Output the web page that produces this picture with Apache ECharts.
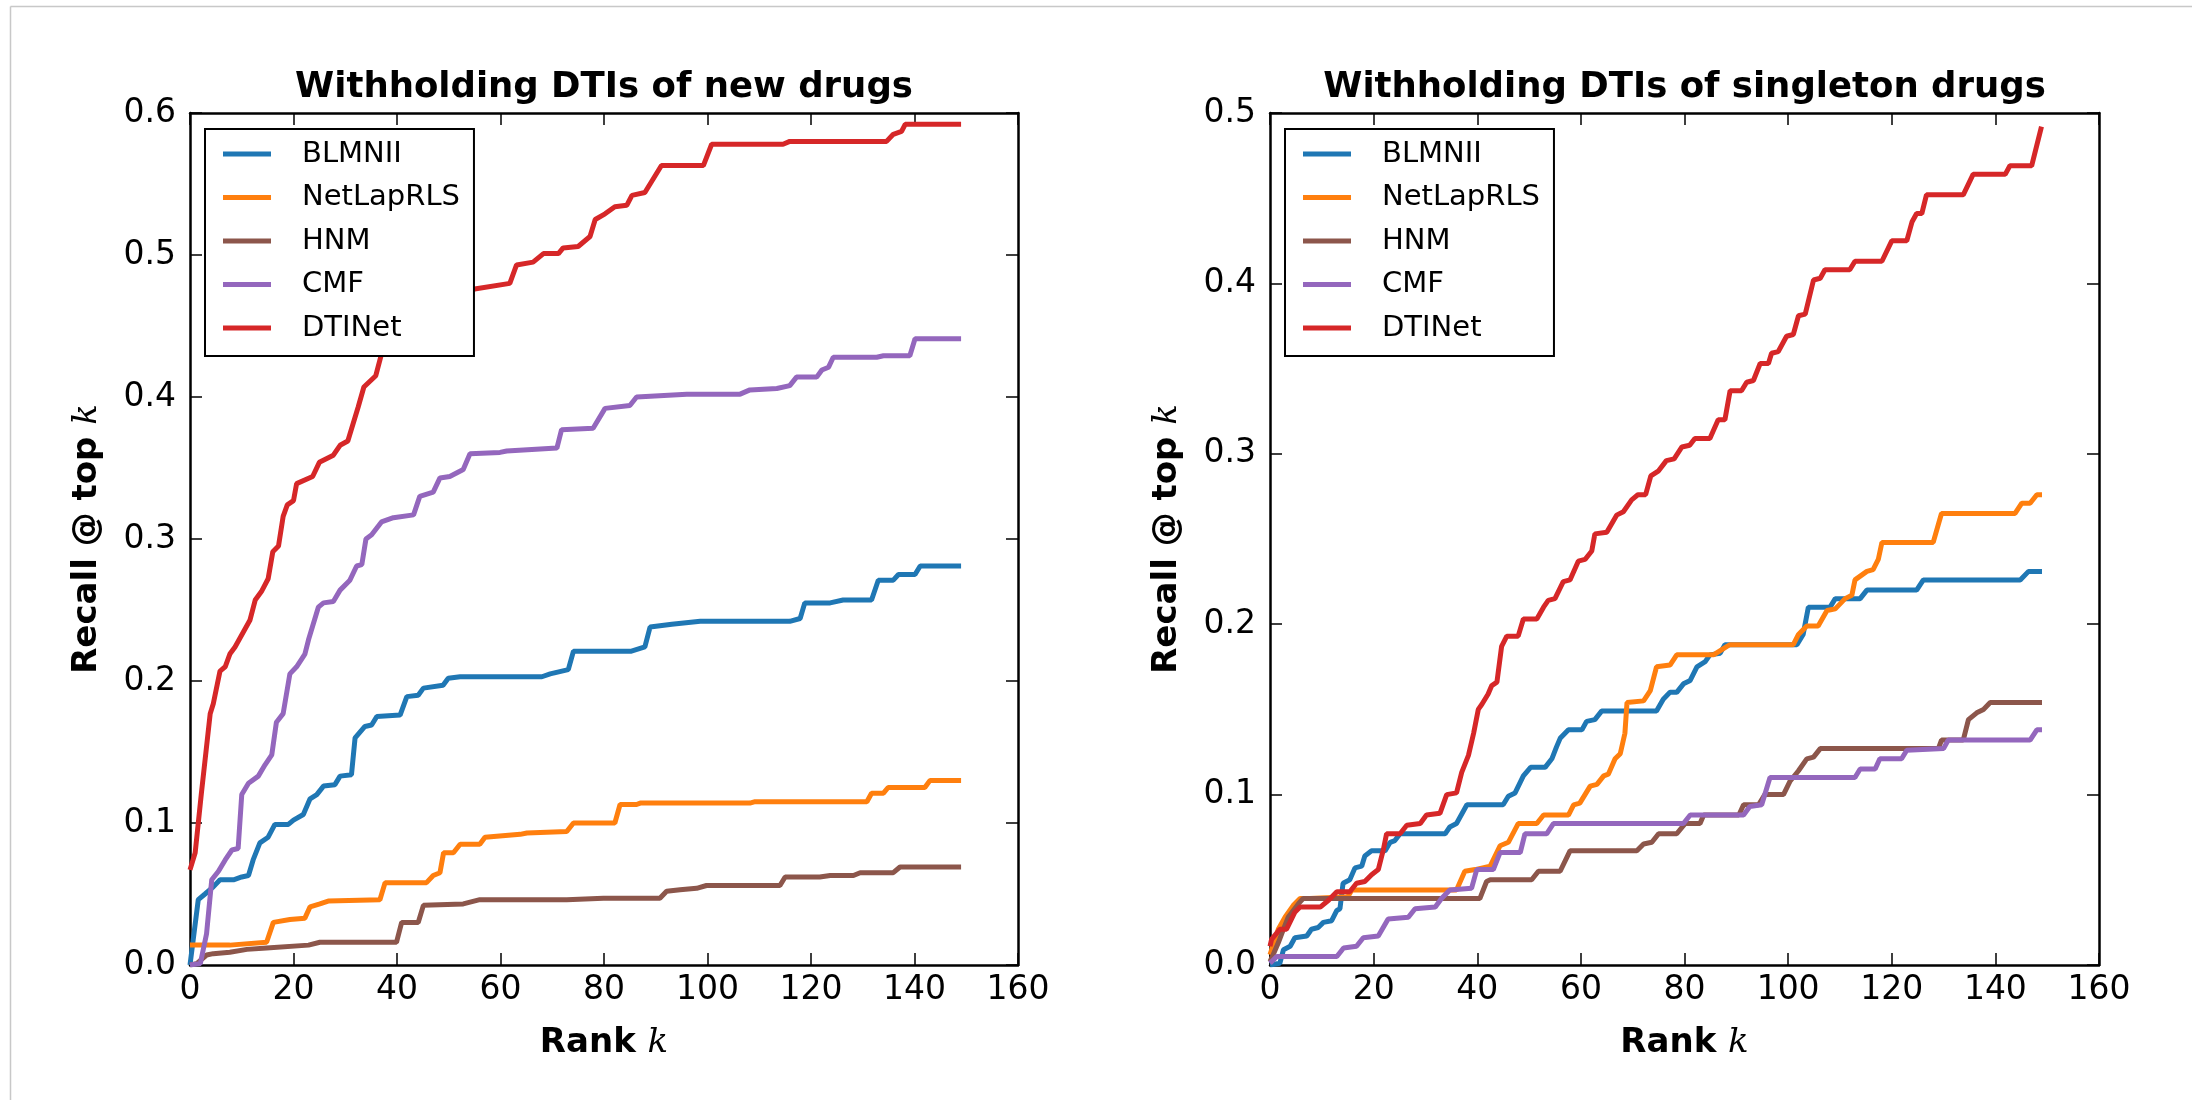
<!DOCTYPE html>
<html>
<head>
<meta charset="utf-8">
<title>Recall @ top k</title>
<script src="https://cdn.jsdelivr.net/npm/echarts@6/dist/echarts.min.js"></script>
<style>
  html, body { margin: 0; padding: 0; background: #fff; }
  #main { width: 2192px; height: 1100px; }
</style>
</head>
<body>
<div id="main"></div>
<script>
// series names and colours (matplotlib defaults)
var methods = ['BLMNII', 'NetLapRLS', 'HNM', 'CMF', 'DTINet'];
var colors = ['#1f77b4', '#ff7f0e', '#8c564b', '#9467bd', '#d62728'];
var titles = ['Withholding DTIs of new drugs', 'Withholding DTIs of singleton drugs'];
var xTicks = [0, 20, 40, 60, 80, 100, 120, 140, 160];
var yMaxLeft = 0.6;
var yMaxRight = 0.5;

// ---- left panel: new drugs, [rank k, recall] ----
var newBLMNII = [[0,0],[1.6,0.046],[2.9,0.05],[4.5,0.055],[5.8,0.06],[8.4,0.06],[10,0.062],[11.3,0.063],[12.2,0.074],[13.5,0.086],[15.1,0.09],[16.4,0.099],[19,0.099],[20,0.102],[21.9,0.106],[23.2,0.117],[24.5,0.12],[25.8,0.126],[28,0.127],[29,0.133],[31.2,0.134],[31.9,0.16],[33.8,0.168],[35.1,0.169],[36.1,0.175],[40.6,0.176],[41.9,0.189],[44.1,0.19],[45.1,0.195],[48.9,0.197],[49.9,0.202],[52.2,0.203],[68,0.203],[69.6,0.205],[73.1,0.208],[74.1,0.221],[85.3,0.221],[87.9,0.224],[88.9,0.238],[93.1,0.24],[98.6,0.242],[115.9,0.242],[117.9,0.244],[118.8,0.255],[123.7,0.255],[126.2,0.257],[131.7,0.257],[133,0.271],[135.9,0.271],[136.9,0.275],[140.1,0.275],[141.1,0.281],[149,0.281]];
var newNetLapRLS = [[0,0.014],[7.7,0.014],[14.8,0.016],[16.1,0.03],[19.3,0.032],[22.2,0.033],[23.2,0.041],[25.1,0.043],[26.7,0.045],[36.7,0.046],[37.7,0.058],[45.7,0.058],[47,0.063],[48.3,0.065],[49,0.079],[50.9,0.079],[52.2,0.085],[56,0.085],[57,0.09],[63.8,0.092],[65.1,0.093],[72.8,0.094],[74.1,0.1],[82.1,0.1],[83.1,0.113],[86.3,0.113],[87,0.114],[108.2,0.114],[109.2,0.115],[130.8,0.115],[131.7,0.121],[134,0.121],[134.9,0.125],[142,0.125],[143,0.13],[149,0.13]];
var newHNM = [[0,0],[1.3,0.001],[3.2,0.007],[4.5,0.008],[7.7,0.009],[11,0.011],[14.8,0.012],[22.9,0.014],[25.1,0.016],[39.9,0.016],[40.9,0.03],[44.1,0.03],[45.1,0.042],[52.8,0.043],[56,0.046],[72.8,0.046],[79.9,0.047],[90.8,0.047],[92.1,0.052],[94.7,0.053],[97.9,0.054],[99.8,0.056],[114,0.056],[115,0.062],[121.7,0.062],[123.7,0.063],[128.2,0.063],[129.5,0.065],[135.9,0.065],[137.2,0.069],[149,0.069]];
var newCMF = [[0,0],[2,0.001],[3.2,0.022],[4.2,0.06],[5.5,0.066],[6.8,0.074],[8.1,0.081],[9.3,0.082],[10,0.12],[11.3,0.128],[13.2,0.133],[14.5,0.141],[15.8,0.148],[16.7,0.171],[18,0.177],[19.3,0.205],[20.6,0.21],[22.2,0.219],[22.9,0.229],[24.8,0.252],[25.8,0.255],[27.7,0.256],[29,0.264],[30.9,0.271],[32.2,0.281],[33.2,0.282],[34,0.3],[35.1,0.303],[37,0.312],[39.3,0.315],[43.2,0.317],[44.4,0.33],[47,0.333],[48.3,0.343],[50.2,0.344],[52.8,0.349],[54.1,0.36],[59.9,0.361],[61.2,0.362],[70.9,0.364],[71.8,0.377],[77.9,0.378],[80.2,0.392],[85,0.394],[86.3,0.4],[96,0.402],[106.3,0.402],[108.2,0.405],[113.4,0.406],[115.9,0.408],[117.2,0.414],[121.1,0.414],[122.1,0.419],[123.4,0.421],[124.3,0.428],[132.7,0.428],[134,0.429],[139.1,0.429],[140.1,0.441],[149,0.441]];
var newDTINet = [[0,0.067],[1,0.079],[2.2,0.121],[3.9,0.177],[4.5,0.184],[5.8,0.207],[6.8,0.21],[7.7,0.219],[8.7,0.224],[11.6,0.243],[12.6,0.257],[13.8,0.263],[15.1,0.272],[16,0.291],[17.1,0.295],[18,0.316],[18.8,0.324],[20,0.327],[20.6,0.339],[23.7,0.344],[25,0.354],[27.7,0.359],[29,0.366],[30.5,0.369],[32.5,0.393],[33.6,0.407],[35.9,0.415],[37.2,0.433],[40,0.445],[44,0.458],[48,0.466],[52,0.472],[55,0.476],[61.8,0.48],[63.1,0.493],[66.3,0.495],[68.3,0.501],[71.2,0.501],[72.1,0.505],[75,0.506],[77.3,0.513],[78.3,0.525],[80.2,0.529],[82.1,0.534],[84.4,0.535],[85.4,0.542],[87.9,0.544],[91.1,0.563],[99.2,0.563],[100.8,0.578],[114.6,0.578],[115.9,0.58],[134.6,0.58],[135.9,0.585],[137.5,0.587],[138.2,0.592],[149,0.592]];

// ---- right panel: singleton drugs ----
var sgBLMNII = [[0,0],[1.9,0.001],[2.6,0.009],[3.9,0.011],[4.8,0.016],[7.1,0.017],[8,0.021],[9.3,0.022],[10.3,0.025],[11.9,0.026],[12.9,0.032],[13.5,0.033],[14.1,0.048],[15.4,0.05],[16.4,0.057],[17.7,0.058],[18.3,0.064],[19.6,0.067],[22.2,0.067],[23.2,0.072],[24.1,0.073],[25.1,0.077],[33.8,0.077],[34.7,0.081],[36,0.083],[38,0.094],[45,0.094],[46,0.099],[47.3,0.101],[48.9,0.111],[50.3,0.116],[53.1,0.116],[54.4,0.121],[55.3,0.128],[56,0.133],[57.6,0.138],[60.2,0.138],[61.1,0.143],[62.7,0.144],[64,0.149],[74.6,0.149],[75.9,0.156],[77.2,0.16],[78.5,0.16],[79.8,0.165],[81.1,0.167],[82.4,0.175],[84,0.178],[84.9,0.182],[86.9,0.183],[87.8,0.188],[101.7,0.188],[102.9,0.194],[103.9,0.21],[108.1,0.21],[109.1,0.215],[113.9,0.215],[115.2,0.22],[124.8,0.22],[126.1,0.226],[144.8,0.226],[146.4,0.231],[149,0.231]];
var sgNetLapRLS = [[0,0.006],[1.6,0.021],[2.9,0.028],[4.5,0.035],[5.8,0.039],[7.7,0.039],[15,0.04],[15.8,0.044],[36,0.044],[37.6,0.055],[39.6,0.056],[42.5,0.058],[44.4,0.07],[46,0.072],[47.9,0.083],[51.5,0.083],[52.8,0.088],[57.6,0.088],[58.6,0.094],[59.8,0.095],[61.8,0.105],[63.1,0.106],[64.4,0.111],[65.3,0.112],[66.6,0.121],[67.6,0.124],[68.5,0.136],[68.9,0.154],[72.1,0.155],[73.4,0.161],[74.6,0.175],[77.2,0.176],[78.5,0.182],[85.6,0.182],[88.2,0.187],[88.8,0.188],[101,0.188],[102,0.194],[103.6,0.199],[105.8,0.199],[107.5,0.208],[109.1,0.209],[111,0.215],[112.3,0.217],[112.9,0.226],[115.2,0.231],[116.4,0.232],[117.4,0.238],[118.1,0.248],[128,0.248],[129.6,0.265],[143.8,0.265],[145.1,0.271],[146.7,0.271],[148,0.276],[149,0.276]];
var sgHNM = [[0,0.002],[0.6,0.006],[1.6,0.013],[2.6,0.021],[3.5,0.028],[4.5,0.032],[5.5,0.036],[6.4,0.039],[40.5,0.039],[41.8,0.049],[42.5,0.05],[50.5,0.05],[51.8,0.055],[56,0.055],[57.9,0.067],[70.8,0.067],[72.1,0.071],[73.7,0.072],[75,0.077],[78.5,0.077],[80.1,0.083],[83,0.083],[83.7,0.088],[90.5,0.088],[91.4,0.094],[94.3,0.094],[95.5,0.1],[99.1,0.1],[100.4,0.108],[102,0.114],[103.6,0.121],[104.9,0.122],[106.2,0.127],[129,0.127],[129.6,0.132],[133.8,0.132],[134.8,0.144],[136.4,0.148],[137.7,0.15],[139,0.154],[149,0.154]];
var sgCMF = [[0,0.001],[1.3,0.005],[12.9,0.005],[14.2,0.01],[16.7,0.011],[18,0.016],[20.9,0.017],[22.8,0.027],[26.7,0.028],[28,0.033],[31.9,0.034],[33.1,0.039],[34.7,0.044],[38.9,0.045],[39.9,0.056],[43.1,0.056],[44.4,0.066],[48.3,0.066],[49.2,0.077],[53.4,0.077],[54.7,0.083],[79.8,0.083],[81.1,0.088],[91.4,0.088],[92.6,0.093],[94.9,0.094],[96.5,0.11],[112.9,0.11],[113.9,0.115],[116.8,0.115],[117.7,0.121],[121.9,0.121],[122.9,0.126],[130,0.127],[130.9,0.132],[146.7,0.132],[148,0.138],[149,0.138]];
var sgDTINet = [[0,0.011],[0.3,0.015],[1.9,0.021],[3.2,0.021],[4.8,0.031],[5.8,0.034],[9.7,0.034],[11.3,0.038],[12.9,0.043],[15.4,0.043],[16.7,0.048],[18.3,0.049],[19.6,0.053],[20.9,0.056],[21.9,0.068],[22.5,0.077],[25.1,0.077],[26.4,0.082],[29,0.083],[30.2,0.088],[32.8,0.089],[34.1,0.1],[36,0.101],[37,0.113],[38.3,0.123],[39.3,0.136],[40.2,0.15],[40.9,0.153],[42.1,0.159],[42.8,0.164],[43.8,0.166],[44.7,0.187],[45.7,0.193],[47.9,0.193],[48.9,0.203],[51.5,0.203],[52.8,0.21],[53.7,0.214],[55,0.215],[56.6,0.225],[57.9,0.226],[59.5,0.237],[60.8,0.238],[62.1,0.243],[62.7,0.253],[65,0.254],[66.9,0.264],[68.2,0.266],[69.8,0.273],[71,0.276],[72.5,0.276],[73.5,0.287],[75,0.29],[76.5,0.296],[78,0.297],[79.5,0.304],[81,0.305],[82,0.309],[84.9,0.309],[86.5,0.32],[87.8,0.32],[88.8,0.337],[91,0.337],[92,0.342],[93.3,0.343],[94.6,0.353],[96.2,0.353],[96.8,0.359],[98.1,0.36],[99.7,0.369],[101,0.37],[102,0.381],[103.3,0.382],[104.9,0.402],[106.2,0.403],[107.1,0.408],[111.9,0.408],[112.9,0.413],[118.1,0.413],[120,0.425],[122.9,0.425],[123.9,0.436],[124.8,0.441],[125.8,0.441],[126.7,0.452],[133.8,0.452],[135.7,0.464],[141.9,0.464],[142.8,0.469],[147,0.469],[148.9,0.492]];

var leftData = [newBLMNII, newNetLapRLS, newHNM, newCMF, newDTINet];
var rightData = [sgBLMNII, sgNetLapRLS, sgHNM, sgCMF, sgDTINet];

var font = 'DejaVu Sans';
var myChart = echarts.init(document.getElementById('main'));

// panel boxes in px
var panels = [
    { left: 190, top: 113, width: 828, height: 852 },
    { left: 1270, top: 113, width: 829, height: 852 }
];

function xAxes(gi) {
    var base = {
        gridIndex: gi, type: 'value', min: 0, max: 160, interval: 20,
        axisLine: { show: true, onZero: false, lineStyle: { color: '#000', width: 2.5 } },
        axisTick: { show: true, inside: true, length: 12, lineStyle: { color: '#000', width: 1.5 } },
        splitLine: { show: false }
    };
    var bottom = Object.assign({}, base, {
        position: 'bottom',
        axisLabel: { show: true, fontSize: 33, fontFamily: font, color: '#000', margin: 9, showMinLabel: true, showMaxLabel: true },
        name: '{b|Rank }{i|k}',
        nameLocation: 'middle',
        nameGap: 61,
        nameTextStyle: {
            rich: {
                b: { fontSize: 34, fontWeight: 'bold', fontFamily: font, color: '#000' },
                i: { fontSize: 34, fontStyle: 'italic', fontFamily: 'DejaVu Serif', color: '#000' }
            }
        }
    });
    var top = Object.assign({}, base, { position: 'top', axisLabel: { show: false } });
    return [bottom, top];
}

function yAxes(gi, ymax) {
    var base = {
        gridIndex: gi, type: 'value', min: 0, max: ymax, interval: 0.1,
        axisLine: { show: true, onZero: false, lineStyle: { color: '#000', width: 2.5 } },
        axisTick: { show: true, inside: true, length: 12, lineStyle: { color: '#000', width: 1.5 } },
        splitLine: { show: false }
    };
    var left = Object.assign({}, base, {
        position: 'left',
        axisLabel: {
            show: true, fontSize: 33, fontFamily: font, color: '#000', margin: 14,
            showMinLabel: true, showMaxLabel: true,
            formatter: function (v) { return v.toFixed(1); }
        },
        name: '{b|Recall @ top }{i|k}',
        nameLocation: 'middle',
        nameGap: 86,
        nameTextStyle: {
            rich: {
                b: { fontSize: 34, fontWeight: 'bold', fontFamily: font, color: '#000' },
                i: { fontSize: 34, fontStyle: 'italic', fontFamily: 'DejaVu Serif', color: '#000' }
            }
        }
    });
    var right = Object.assign({}, base, { position: 'right', axisLabel: { show: false } });
    return [left, right];
}

var series = [];
function addSeries(dataList, axisIdx) {
    for (var i = 0; i < methods.length; i++) {
        series.push({
            name: methods[i],
            type: 'line',
            xAxisIndex: axisIdx,
            yAxisIndex: axisIdx,
            data: dataList[i],
            showSymbol: false,
            symbol: 'none',
            lineStyle: { color: colors[i], width: 5 },
            itemStyle: { color: colors[i] },
            z: 2 + i
        });
    }
}
addSeries(leftData, 0);
addSeries(rightData, 2);

function makeLegend(left) {
    return {
        data: methods,
        orient: 'vertical',
        left: left,
        top: 129,
        icon: 'rect',
        itemWidth: 48,
        itemHeight: 5,
        itemGap: 13.5,
        selectedMode: false,
        backgroundColor: '#fff',
        borderColor: '#000',
        borderWidth: 2,
        borderRadius: 0,
        padding: [10, 14, 13, 18],
        z: 10,
        textStyle: { fontSize: 29, fontFamily: font, color: '#000', lineHeight: 30, padding: [0, 0, 0, 26] }
    };
}

var option = {
    animation: false,
    backgroundColor: '#fff',
    color: colors,
    grid: panels.map(function (p) {
        return { left: p.left, top: p.top, width: p.width, height: p.height, show: false };
    }),
    xAxis: xAxes(0).concat(xAxes(1)),
    yAxis: yAxes(0, yMaxLeft).concat(yAxes(1, yMaxRight)),
    legend: [makeLegend(205), makeLegend(1285)],
    graphic: [
        // light frame left/top of the figure
        { type: 'line', shape: { x1: 10.5, y1: 6.5, x2: 2192, y2: 6.5 }, style: { stroke: '#c8c8c8', lineWidth: 1.5 }, silent: true },
        { type: 'line', shape: { x1: 10.5, y1: 6.5, x2: 10.5, y2: 1100 }, style: { stroke: '#c8c8c8', lineWidth: 1.5 }, silent: true },
        {
            type: 'text', x: panels[0].left + panels[0].width / 2, y: 106,
            style: { text: titles[0], font: 'bold 35.5px "DejaVu Sans"', fill: '#000', textAlign: 'center', textVerticalAlign: 'bottom' }
        },
        {
            type: 'text', x: panels[1].left + panels[1].width / 2, y: 106,
            style: { text: titles[1], font: 'bold 35.5px "DejaVu Sans"', fill: '#000', textAlign: 'center', textVerticalAlign: 'bottom' }
        }
    ],
    series: series
};

myChart.setOption(option);
</script>
</body>
</html>
